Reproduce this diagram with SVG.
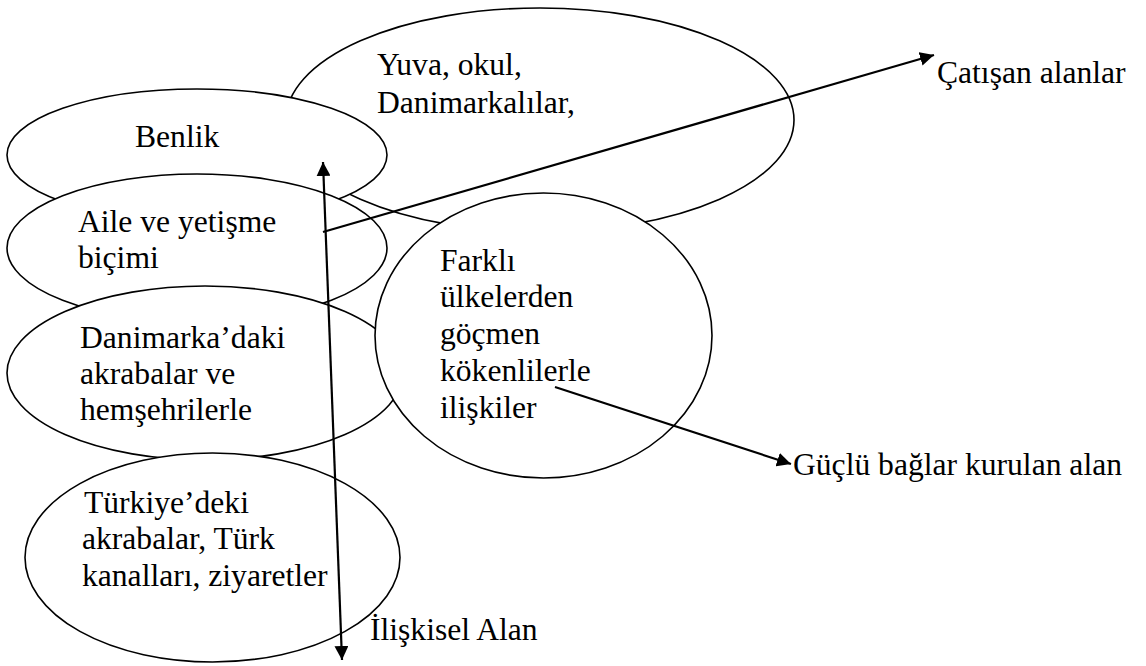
<svg xmlns="http://www.w3.org/2000/svg" width="1146" height="666" viewBox="0 0 1146 666">
<style>
.node ellipse{fill:#fff;stroke:#000;stroke-width:1.6}
text{font-family:"Liberation Serif","Times New Roman",serif;font-size:31.6px;fill:#000}
.conn line{stroke:#000;stroke-width:2.2;fill:none}
</style>
<defs>
<marker id="ah" viewBox="0 0 14 14" refX="14" refY="7" markerWidth="14" markerHeight="14" markerUnits="userSpaceOnUse" orient="auto-start-reverse">
<path d="M0,0 L14,7 L0,14 Z" fill="#000"/>
</marker>
</defs>
<rect width="1146" height="666" fill="#fff"/>
<g id="yuva" class="node">
<ellipse cx="540" cy="120" rx="254" ry="112"/>
<text x="377" y="75">Yuva, okul,</text>
<text x="377" y="113">Danimarkalılar,</text>
</g>
<g id="benlik" class="node">
<ellipse cx="197" cy="155" rx="190" ry="66"/>
<text x="135" y="147">Benlik</text>
</g>
<g id="aile" class="node">
<ellipse cx="197" cy="248" rx="190" ry="74"/>
<text x="78" y="232">Aile ve yetişme</text>
<text x="78" y="268">biçimi</text>
</g>
<g id="danimarka" class="node">
<ellipse cx="205" cy="373" rx="198" ry="87"/>
<text x="80" y="348">Danimarka’daki</text>
<text x="80" y="384">akrabalar ve</text>
<text x="80" y="420">hemşehrilerle</text>
</g>
<g id="turkiye" class="node">
<ellipse cx="212.5" cy="557.5" rx="187.5" ry="104.5"/>
<text x="84" y="513">Türkiye’deki</text>
<text x="82" y="549">akrabalar, Türk</text>
<text x="82" y="586">kanalları, ziyaretler</text>
</g>
<g id="farkli" class="node">
<ellipse cx="543.5" cy="335.5" rx="168.5" ry="142.5"/>
<text x="440" y="271">Farklı</text>
<text x="440" y="307">ülkelerden</text>
<text x="440" y="344">göçmen</text>
<text x="440" y="381">kökenlilerle</text>
<text x="440" y="418">ilişkiler</text>
</g>
<g id="labels">
<text x="937" y="83">Çatışan alanlar</text>
<text x="793" y="475">Güçlü bağlar kurulan alan</text>
<text x="370" y="640">İlişkisel Alan</text>
</g>
<g id="connectors" class="conn">
<line x1="342" y1="660" x2="323" y2="162" marker-start="url(#ah)" marker-end="url(#ah)"/>
<line x1="323" y1="232" x2="934" y2="55" marker-end="url(#ah)"/>
<line x1="555" y1="387" x2="791" y2="464" marker-end="url(#ah)"/>
</g>
</svg>
